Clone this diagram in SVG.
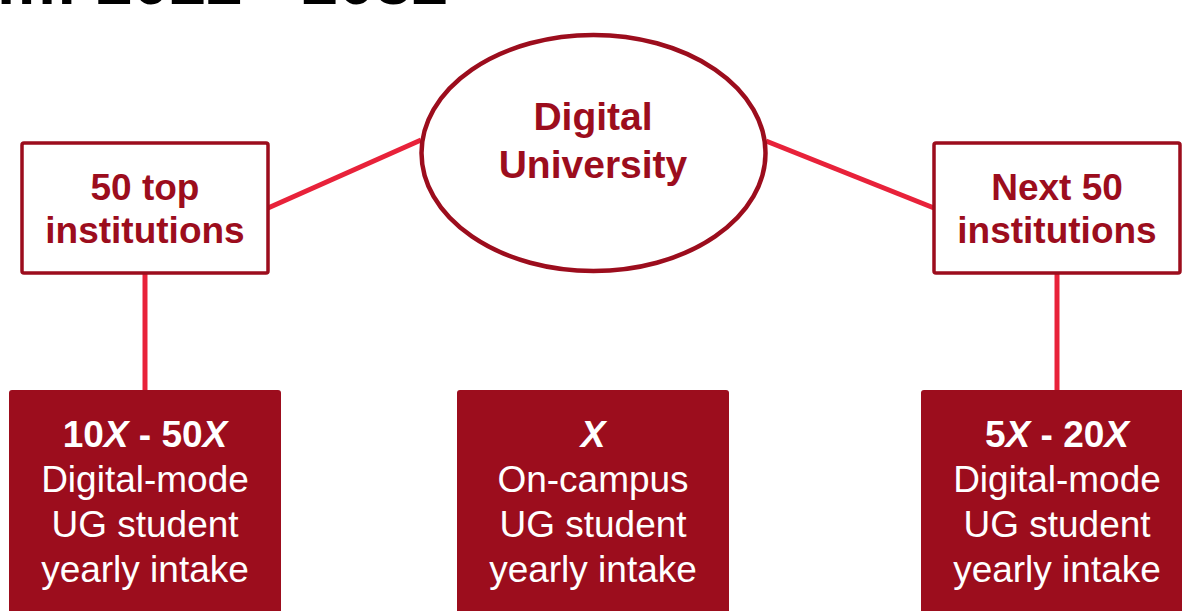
<svg xmlns="http://www.w3.org/2000/svg" width="1182" height="611" viewBox="0 0 1182 611">
  <style>
    .title { font-family: "Liberation Sans", Arial, sans-serif; font-weight: bold; font-size: 66px; fill: #000; }
    .outline { fill: #fff; stroke: #9c0d1d; stroke-width: 3.5; }
    .solid { fill: #9c0d1d; }
    .head { font-family: "Liberation Sans", Arial, sans-serif; font-weight: bold; font-size: 37px; fill: #9c0d1d; text-anchor: middle; }
    .ell { font-family: "Liberation Sans", Arial, sans-serif; font-weight: bold; font-size: 39px; fill: #9c0d1d; text-anchor: middle; }
    .body { font-family: "Liberation Sans", Arial, sans-serif; font-size: 37px; fill: #fff; text-anchor: middle; }
    .bold { font-weight: bold; }
    .it { font-style: italic; }
    .conn { stroke: #e8223a; stroke-width: 5; fill: none; }
  </style>
  <rect width="1182" height="611" fill="#fff"/>
  <text class="title" x="-3" y="4">m: 2022 - 2032</text>

  <g id="connectors">
    <line class="conn" x1="268" y1="208" x2="421" y2="140"/>
    <line class="conn" x1="766" y1="141" x2="934" y2="208"/>
    <line class="conn" x1="145" y1="274" x2="145" y2="391"/>
    <line class="conn" x1="1057" y1="274" x2="1057" y2="391"/>
  </g>

  <g id="digital-university">
    <ellipse class="outline" cx="593.5" cy="153" rx="172" ry="118" style="stroke-width:4.5"/>
    <text class="ell" x="593" y="130">Digital</text>
    <text class="ell" x="593" y="178">University</text>
  </g>

  <g id="top-50">
    <rect class="outline" x="22" y="143" width="246" height="130" rx="2"/>
    <text class="head" x="145" y="200">50 top</text>
    <text class="head" x="145" y="243">institutions</text>
  </g>

  <g id="next-50">
    <rect class="outline" x="934" y="143" width="246" height="130" rx="2"/>
    <text class="head" x="1057" y="200">Next 50</text>
    <text class="head" x="1057" y="243">institutions</text>
  </g>

  <g id="intake-top-50">
    <rect class="solid" x="9" y="390" width="272" height="240" rx="3"/>
    <text class="body bold" x="145" y="447">10<tspan class="it">X</tspan> - 50<tspan class="it">X</tspan></text>
    <text class="body" x="145" y="492">Digital-mode</text>
    <text class="body" x="145" y="537">UG student</text>
    <text class="body" x="145" y="582">yearly intake</text>
  </g>

  <g id="intake-on-campus">
    <rect class="solid" x="457" y="390" width="272" height="240" rx="3"/>
    <text class="body bold it" x="593" y="447">X</text>
    <text class="body" x="593" y="492">On-campus</text>
    <text class="body" x="593" y="537">UG student</text>
    <text class="body" x="593" y="582">yearly intake</text>
  </g>

  <g id="intake-next-50">
    <rect class="solid" x="921" y="390" width="272" height="240" rx="3"/>
    <text class="body bold" x="1057" y="447">5<tspan class="it">X</tspan> - 20<tspan class="it">X</tspan></text>
    <text class="body" x="1057" y="492">Digital-mode</text>
    <text class="body" x="1057" y="537">UG student</text>
    <text class="body" x="1057" y="582">yearly intake</text>
  </g>
</svg>
